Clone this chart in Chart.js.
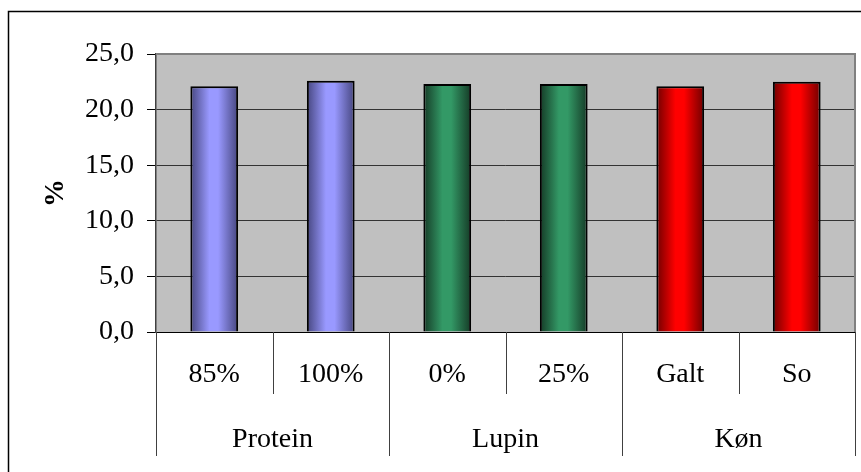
<!DOCTYPE html>
<html>
<head>
<meta charset="utf-8">
<script src="https://cdn.jsdelivr.net/npm/chart.js@4"></script>
<style>
  body { margin: 0; background: #fff; }
  canvas { display: block; }
</style>
</head>
<body>
<canvas id="barChart" width="861" height="472"></canvas>
<script>
const subLabels = ["85%", "100%", "0%", "25%", "Galt", "So"];
const groupNames = ["Protein", "Lupin", "Køn"];
const groupSizes = [2, 2, 2];
const values = [22.1, 22.6, 22.3, 22.3, 22.1, 22.5];
const yMin = 0;
const yMax = 25;
const yStep = 5;

// light centre / dark edge for each group
const groupLight = ["#9999FF", "#339966", "#FF0000"];
const groupDark = ["#46467F", "#153A26", "#700000"];

const serif = "'Liberation Serif', 'Times New Roman', serif";
const barPct = 0.41;

function groupOf(index) {
    let n = 0;
    for (let g = 0; g < groupSizes.length; g++) {
        n += groupSizes[g];
        if (index < n) return g;
    }
    return 0;
}

function barFill(context) {
    const i = context.dataIndex;
    if (i === undefined) return groupLight[0];
    const g = groupOf(i);
    const chart = context.chart;
    const xs = chart.scales.x;
    if (!xs || !chart.chartArea) return groupLight[g];
    const cx = xs.getPixelForValue(i);
    const w = (xs.width / subLabels.length) * barPct;
    const grad = chart.ctx.createLinearGradient(cx - w / 2, 0, cx + w / 2, 0);
    grad.addColorStop(0, groupDark[g]);
    grad.addColorStop(0.4, groupLight[g]);
    grad.addColorStop(0.58, groupLight[g]);
    grad.addColorStop(1, groupDark[g]);
    return grad;
}

const frame = {
    id: "frame",
    beforeDraw(chart) {
        const c = chart.ctx;
        const a = chart.chartArea;
        c.save();
        c.fillStyle = "#fff";
        c.fillRect(0, 0, chart.width, chart.height);
        c.fillStyle = "#C0C0C0";
        c.fillRect(a.left, a.top, a.right - a.left, a.bottom - a.top);
        c.restore();
    },
    afterDraw(chart) {
        const c = chart.ctx;
        const a = chart.chartArea;
        const xs = chart.scales.x;
        c.save();

        // outer chart border
        c.strokeStyle = "#000";
        c.lineWidth = 1.5;
        c.beginPath();
        c.moveTo(8.5, chart.height + 2);
        c.lineTo(8.5, 11.5);
        c.lineTo(chart.width + 2, 11.5);
        c.stroke();

        // plot area border top + right
        c.strokeStyle = "#808080";
        c.lineWidth = 2;
        c.beginPath();
        c.moveTo(a.left, a.top);
        c.lineTo(a.right, a.top);
        c.lineTo(a.right, a.bottom);
        c.stroke();

        // category separators
        const step = xs.width / subLabels.length;
        c.strokeStyle = "#404040";
        c.lineWidth = 1;
        let idx = 0;
        const groupEdges = [0];
        groupSizes.forEach(s => { idx += s; groupEdges.push(idx); });
        for (let k = 0; k <= subLabels.length; k++) {
            const x = Math.round(xs.left + k * step) + 0.5;
            const isGroup = groupEdges.includes(k);
            c.beginPath();
            c.moveTo(x, a.bottom);
            c.lineTo(x, isGroup ? a.bottom + 124 : a.bottom + 62);
            c.stroke();
        }

        // group labels
        c.fillStyle = "#000";
        c.font = "28px " + serif;
        c.textAlign = "center";
        c.textBaseline = "alphabetic";
        for (let g = 0; g < groupNames.length; g++) {
            const x0 = xs.left + groupEdges[g] * step;
            const x1 = xs.left + groupEdges[g + 1] * step;
            c.fillText(groupNames[g], (x0 + x1) / 2, a.bottom + 115);
        }
        c.restore();
    }
};

new Chart(document.getElementById("barChart"), {
    type: "bar",
    data: {
        labels: subLabels,
        datasets: [{
            data: values,
            backgroundColor: barFill,
            borderColor: "#000",
            borderWidth: 2,
            borderSkipped: "start",
            categoryPercentage: 1,
            barPercentage: barPct
        }]
    },
    options: {
        responsive: false,
        animation: false,
        layout: { padding: { top: 54, right: 6, bottom: 16, left: 8 } },
        plugins: {
            legend: { display: false },
            tooltip: { enabled: false }
        },
        scales: {
            x: {
                grid: { display: false, drawTicks: false },
                border: { display: true, color: "#000", width: 1 },
                ticks: {
                    color: "#000",
                    font: { family: serif, size: 28 },
                    padding: 26,
                    maxRotation: 0
                },
                afterFit(scale) { scale.height = 124; }
            },
            y: {
                min: yMin,
                max: yMax,
                grid: {
                    color: "#333",
                    lineWidth: 1,
                    tickLength: 9,
                    tickColor: "#000"
                },
                border: { display: true, color: "#404040", width: 1.5 },
                ticks: {
                    stepSize: yStep,
                    color: "#000",
                    padding: 13,
                    font: { family: serif, size: 28 },
                    callback: v => v.toFixed(1).replace(".", ",")
                },
                title: {
                    display: true,
                    text: "%",
                    color: "#000",
                    font: { family: serif, size: 28, weight: "bold" },
                    padding: { top: 31, bottom: 0 }
                },
                afterFit(scale) { scale.width = 148; }
            }
        }
    },
    plugins: [frame]
});
</script>
</body>
</html>
